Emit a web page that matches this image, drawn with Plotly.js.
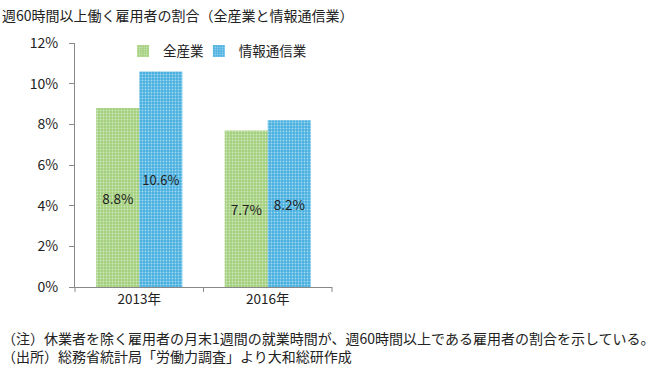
<!DOCTYPE html>
<html><head><meta charset="utf-8">
<script src="https://cdn.plot.ly/plotly-3.0.1.min.js"></script>
<style>html,body{margin:0;padding:0;background:#fff;}#chart{width:658px;height:372px;}</style>
</head><body><div id="chart"></div>
<script>
const categories = ['2013年', '2016年'];
const allIndustries = [8.8, 7.7];
const infoComm = [10.6, 8.2];
const seriesNames = ['全産業', '情報通信業'];
const yTickVals = [0, 2, 4, 6, 8, 10, 12];
const yTickText = ['0%', '2%', '4%', '6%', '8%', '10%', '12%'];

const font = '"Noto Sans CJK JP", "Noto Sans", sans-serif';
function mk(name, vals, bg, leg) {
  return {
    type: 'bar', name: name, x: categories, y: vals, legend: leg,
    text: vals.map(v => v.toFixed(1) + '%'),
    textposition: 'inside', insidetextanchor: 'middle',
    textfont: {family: font, size: 13.5, color: '#222'},
    textangle: 0,
    marker: {color: bg, pattern: {shape: '.', fgcolor: '#ffffff', bgcolor: bg, size: 3, solidity: 0.3, fillmode: 'overlay'}},
    hoverinfo: 'skip'
  };
}
const data = [mk(seriesNames[0], allIndustries, '#a2cf7c', 'legend'), mk(seriesNames[1], infoComm, '#48b0e0', 'legend2')];
const legBase = {orientation: 'h', y: 1.03, xanchor: 'left', yanchor: 'top', font: {family: font, size: 13.5, color: '#222'}, itemwidth: 30, bgcolor: 'rgba(0,0,0,0)'};
const layout = {
  width: 658, height: 372,
  margin: {l: 75, r: 326, t: 43, b: 85},
  paper_bgcolor: '#fff', plot_bgcolor: '#fff',
  barmode: 'group', bargap: 0.33, bargroupgap: 0,
  font: {family: font, size: 12, color: '#222'},
  showlegend: true,
  legend: Object.assign({}, legBase, {x: 0.187}),
  legend2: Object.assign({}, legBase, {x: 0.482}),
  xaxis: {showline: true, linecolor: '#888', linewidth: 1, ticks: '', showgrid: false, tickfont: {family: font, size: 13.5, color: '#222'}, fixedrange: true},
  yaxis: {range: [0, 12], tickvals: yTickVals, ticktext: yTickText, showline: true, linecolor: '#888', linewidth: 1, ticks: 'outside', ticklen: 5, tickcolor: '#888', showgrid: false, zeroline: false, tickfont: {family: font, size: 14, color: '#222'}, ticklabelstandoff: 8},
  shapes: [0, 0.5, 1].map(p => ({type: 'line', xref: 'x domain', yref: 'paper', x0: p, x1: p, y0: 0, y1: -0.02, line: {color: '#888', width: 1}})),
  annotations: [
    {text: '週60時間以上働く雇用者の割合（全産業と情報通信業）', xref: 'paper', yref: 'paper', x: -75/257, y: 1 + 28/244, xanchor: 'left', yanchor: 'middle', showarrow: false, font: {family: font, size: 14, color: '#222'}},
    {text: '（注）休業者を除く雇用者の月末1週間の就業時間が、週60時間以上である雇用者の割合を示している。', xref: 'paper', yref: 'paper', x: -75/257, y: -51/244, xanchor: 'left', yanchor: 'middle', showarrow: false, font: {family: font, size: 14, color: '#222'}},
    {text: '（出所）総務省統計局「労働力調査」より大和総研作成', xref: 'paper', yref: 'paper', x: -75/257, y: -69/244, xanchor: 'left', yanchor: 'middle', showarrow: false, font: {family: font, size: 14, color: '#222'}}
  ]
};
Plotly.newPlot('chart', data, layout, {staticPlot: true});
</script></body></html>
